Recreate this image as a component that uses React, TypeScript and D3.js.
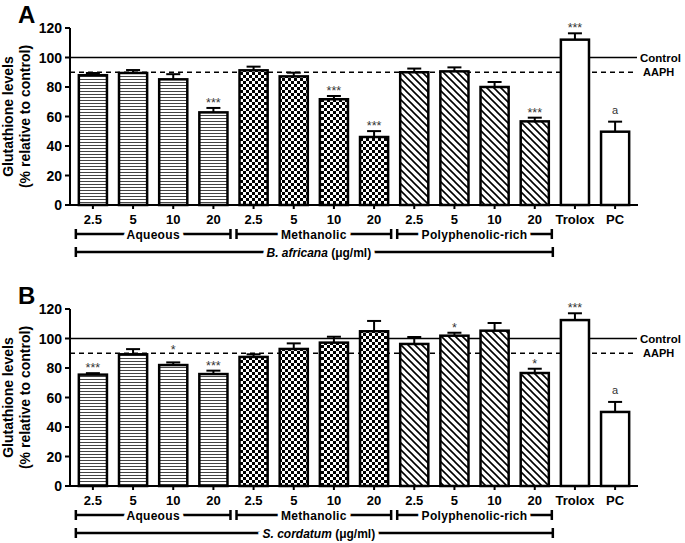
import React from 'react'
import * as d3 from 'd3'

const tickLabels = ['2.5', '5', '10', '20', '2.5', '5', '10', '20', '2.5', '5', '10', '20', 'Trolox', 'PC']
const fills = ['hs', 'hs', 'hs', 'hs', 'ck', 'ck', 'ck', 'ck', 'dg', 'dg', 'dg', 'dg', 'none', 'none']
const groups = ['Aqueous', 'Methanolic', 'Polyphenolic-rich']
const yTicks = [0, 20, 40, 60, 80, 100, 120]

const valuesA = [88, 89.5, 85.2, 62.8, 91.3, 87.2, 71.7, 46.1, 90, 90.6, 80, 56.7, 112.1, 49.7]
const errorsA = [1.5, 2, 3.5, 3, 2.5, 2.5, 2.2, 4, 2.5, 2.7, 3.4, 2.5, 4.3, 6.8]
const marksA = ['', '', '', '***', '', '', '***', '***', '', '', '', '***', '***', 'a']

const valuesB = [75.5, 89.3, 82, 75.9, 87.5, 92.9, 97.2, 104.9, 96.3, 101.9, 105.3, 76.6, 112.5, 50.2]
const errorsB = [1, 3.5, 1.8, 2.3, 1.8, 3.8, 4, 7, 4.7, 2, 5.2, 2.9, 4.6, 6.8]
const marksB = ['***', '', '*', '***', '', '', '', '', '', '*', '', '*', '***', 'a']

const controlLevel = 100
const aaphLevel = 90

const font = '"Liberation Sans", Arial, Helvetica, sans-serif'

const x = d3
	.scaleBand<number>()
	.domain(d3.range(tickLabels.length))
	.range([70, 638])
	.paddingInner(0.3)
	.paddingOuter(0.22)

const Panel = ({
	top,
	letter,
	species,
	values,
	errors,
	marks,
}: {
	top: number
	letter: string
	species: string
	values: number[]
	errors: number[]
	marks: string[]
}) => {
	const y = d3.scaleLinear().domain([0, 120]).range([top + 177, top])
	const y0 = y(0)
	const bw = x.bandwidth()
	const [xl, xr] = x.range()
	const fillOf = (f: string) => (f === 'none' ? 'white' : `url(#${f})`)
	const brY1 = y0 + 29
	const brY2 = y0 + 47
	const bracket = (x1: number, x2: number, yy: number, key: string) => (
		<g key={key} stroke="black" strokeWidth={2.5}>
			<line x1={x1} x2={x2} y1={yy} y2={yy} />
			<line x1={x1} x2={x1} y1={yy - 5} y2={yy + 5} />
			<line x1={x2} x2={x2} y1={yy - 5} y2={yy + 5} />
		</g>
	)
	const midY = (y(0) + y(120)) / 2
	// keep a star label clear of the dashed AAPH line
	const markY = (m: string, et: number) => {
		if (m === 'a') return et - 8
		let by = et - 1
		const c = by - 6
		if (Math.abs(c - y(aaphLevel)) < 6) by = y(aaphLevel) + 1
		return by
	}
	return (
		<g fontFamily={font}>
			<text x={18} y={top - 5} fontSize={24} fontWeight="bold">
				{letter}
			</text>
			<g transform={`translate(13,${midY}) rotate(-90)`}>
				<text textAnchor="middle" fontSize={14} fontWeight="bold">
					Glutathione levels
				</text>
			</g>
			<g transform={`translate(30,${midY}) rotate(-90)`}>
				<text textAnchor="middle" fontSize={14} fontWeight="bold">
					(% relative to control)
				</text>
			</g>

			{/* reference lines */}
			<line x1={xl} x2={xr - 1} y1={y(controlLevel)} y2={y(controlLevel)} stroke="black" strokeWidth={1.5} />
			<line
				x1={xl}
				x2={xr - 1}
				y1={y(aaphLevel)}
				y2={y(aaphLevel)}
				stroke="black"
				strokeWidth={1.5}
				strokeDasharray="5,4"
			/>
			<text x={640} y={y(controlLevel) + 4} fontSize={11.5} fontWeight="bold">
				Control
			</text>
			<text x={643} y={y(aaphLevel) + 4} fontSize={11} fontWeight="bold">
				AAPH
			</text>

			{/* bars */}
			{values.map((v, i) => {
				const bx = x(i)!
				const cx = bx + bw / 2
				const et = y(v + errors[i])
				return (
					<g key={i}>
						<line x1={cx} x2={cx} y1={y(v)} y2={et} stroke="black" strokeWidth={2} />
						<line x1={cx - 7} x2={cx + 7} y1={et} y2={et} stroke="black" strokeWidth={2} />
						<rect
							x={bx}
							y={y(v)}
							width={bw}
							height={y0 - y(v)}
							fill={fillOf(fills[i])}
							stroke="black"
							strokeWidth={2.5}
						/>
						{marks[i] && (
							<text
								x={cx}
								y={markY(marks[i], et)}
								textAnchor="middle"
								fontSize={marks[i] === 'a' ? 11 : 12.5}
								fill="#333"
							>
								{marks[i]}
							</text>
						)}
					</g>
				)
			})}

			{/* axes */}
			<line x1={xl} x2={xl} y1={y(120)} y2={y0} stroke="black" strokeWidth={2} />
			<line x1={xl - 5} x2={xr} y1={y0} y2={y0} stroke="black" strokeWidth={2} />
			{yTicks.map((t) => (
				<g key={t}>
					<line x1={xl - 5} x2={xl} y1={y(t)} y2={y(t)} stroke="black" strokeWidth={2} />
					<text x={xl - 8} y={y(t) + 5} textAnchor="end" fontSize={14} fontWeight="bold">
						{t}
					</text>
				</g>
			))}
			{tickLabels.map((t, i) => {
				const cx = x(i)! + bw / 2
				return (
					<g key={i}>
						<line x1={cx} x2={cx} y1={y0} y2={y0 + 4} stroke="black" strokeWidth={2} />
						<text x={cx} y={y0 + 19} textAnchor="middle" fontSize={13} fontWeight="bold">
							{t}
						</text>
					</g>
				)
			})}

			{/* group brackets */}
			{groups.map((g, gi) => {
				const x1 = x(gi * 4)! - 3
				const x2 = x(gi * 4 + 3)! + bw + 3
				return (
					<g key={g}>
						{bracket(x1, x2, brY1, g)}
						<text
							x={(x1 + x2) / 2}
							y={brY1 + 4.5}
							textAnchor="middle"
							fontSize={12}
							fontWeight="bold"
							stroke="white"
							strokeWidth={8}
							paintOrder="stroke"
							letterSpacing={0.3}
						>
							{g}
						</text>
					</g>
				)
			})}
			{bracket(x(0)! - 3, x(11)! + bw + 4, brY2, 'all')}
			<text
				x={(x(0)! + x(11)! + bw) / 2 + 5}
				y={brY2 + 4.5}
				textAnchor="middle"
				fontSize={12}
				fontWeight="bold"
				stroke="white"
				strokeWidth={8}
				paintOrder="stroke"
			>
				<tspan fontStyle="italic">{species}</tspan> (μg/ml)
			</text>
		</g>
	)
}

const App = () => {
	return (
		<svg
			width={685}
			height={543}
			style={{ position: 'absolute', left: 0, top: 0, background: 'white' }}
		>
			<defs>
				<pattern id="hs" patternUnits="userSpaceOnUse" width={6} height={3}>
					<rect width={6} height={3} fill="white" />
					<line x1={0} x2={6} y1={1.5} y2={1.5} stroke="#444" strokeWidth={1} />
				</pattern>
				<pattern id="ck" patternUnits="userSpaceOnUse" width={6} height={6}>
					<rect width={6} height={6} fill="white" />
					<rect width={3} height={3} fill="black" />
					<rect x={3} y={3} width={3} height={3} fill="black" />
				</pattern>
				<pattern id="dg" patternUnits="userSpaceOnUse" width={7} height={7}>
					<rect width={7} height={7} fill="white" />
					<path d="M0,0 L7,7 M-1,6 L1,8 M6,-1 L8,1" stroke="black" strokeWidth={1.6} />
				</pattern>
			</defs>
			<Panel top={28} letter="A" species="B. africana" values={valuesA} errors={errorsA} marks={marksA} />
			<Panel top={309} letter="B" species="S. cordatum" values={valuesB} errors={errorsB} marks={marksB} />
		</svg>
	)
}

export default App
